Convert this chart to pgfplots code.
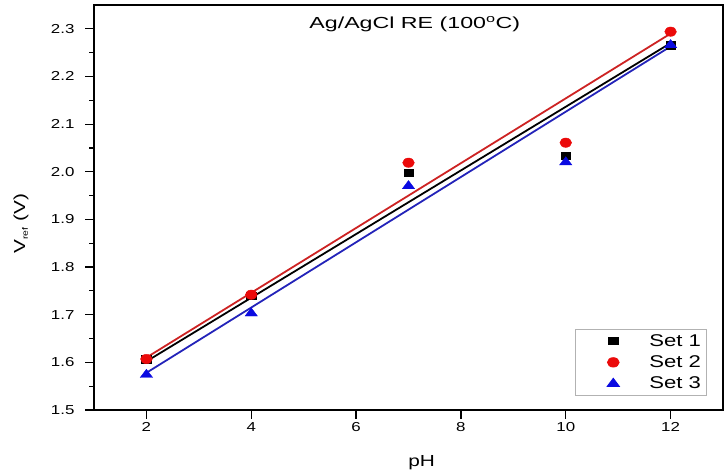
\documentclass[border=0pt]{standalone}
\usepackage{fontspec}
\setmainfont{Liberation Sans}[FakeStretch=1.3]
\newfontfamily\titlefont{Liberation Sans}[FakeStretch=1.45]
\usepackage{pgfplots}
\pgfplotsset{compat=1.18}
\usetikzlibrary{calc}

\definecolor{fitred}{RGB}{205,35,35}
\definecolor{fitblue}{RGB}{35,35,185}
\definecolor{mkred}{RGB}{235,10,10}
\definecolor{mkblue}{RGB}{10,10,225}

\begin{document}
\begin{tikzpicture}
\begin{axis}[
    name=ax,
    scale only axis,
    width=629pt, height=405pt,
    xmin=1, xmax=13,
    ymin=1.5, ymax=2.35,
    xtick={2,4,6,8,10,12},
    ytick={1.5,1.6,1.7,1.8,1.9,2.0,2.1,2.2,2.3},
    minor y tick num=1,
    tick align=outside,
    xtick pos=left, ytick pos=left,
    major tick length=9pt, minor tick length=5pt,
    axis line style={line width=1.3pt},
    every tick/.style={black, line width=1.2pt},
    /pgf/number format/assume math mode=true,
    ticklabel style={font=\fontsize{13}{15}\selectfont},
    yticklabel style={xshift=-7pt, /pgf/number format/.cd, fixed, fixed zerofill, precision=1},
    xlabel={pH},
    ylabel={V\textsubscript{\fontsize{8}{9}\selectfont ref} (V)},
    label style={font=\fontsize{16}{18}\selectfont},
    xlabel style={at={(rel axis cs:0.521,-0.131)}, anchor=center},
    ylabel style={at={(rel axis cs:-0.116,0.46)}, anchor=center},
    legend cell align=left,
    legend style={at={(0.975,0.035)}, anchor=south east,
        font=\fontsize{17}{20}\selectfont, draw=gray!60, line width=0.8pt,
        inner xsep=4pt, inner ysep=3pt, row sep=4pt},
    legend image code/.code={%
        \path[mark repeat=2, mark phase=2, #1]
            plot coordinates {(0pt,0pt) (34pt,0pt) (68pt,0pt)};},
]
% fitted lines (end points)
\addplot[forget plot, fitred, line width=1.8pt] coordinates {(2,1.610) (12,2.290)};
\addplot[forget plot, black, line width=1.8pt] coordinates {(2,1.602) (12,2.270)};
\addplot[forget plot, fitblue, line width=1.8pt] coordinates {(2,1.578) (12,2.263)};

% Set 1
\addplot[draw=none, mark=square*, mark size=3.8pt, black,
    mark options={xscale=1.25, draw=black, fill=black}] coordinates {
    (2,1.607) (4,1.740) (7,1.998) (10,2.034) (12,2.266)
};
% Set 2
\addplot[draw=none, mark=*, mark size=4.7pt, mkred,
    mark options={xscale=1.25, draw=mkred, fill=mkred}] coordinates {
    (2,1.607) (4,1.742) (7,2.019) (10,2.061) (12,2.294)
};
% Set 3
\addplot[draw=none, mark=triangle*, mark size=5.5pt, mkblue,
    mark options={xscale=1.3, draw=mkblue, fill=mkblue}] coordinates {
    (2,1.574) (4,1.703) (7,1.970) (10,2.020) (12,2.266)
};

\node[font=\titlefont\fontsize{16}{18}\selectfont, anchor=base]
    at (rel axis cs:0.510,0.941) {Ag/AgCl RE (100\textsuperscript{o}C)};

\legend{Set 1, Set 2, Set 3}
\end{axis}
\pgfresetboundingbox
\path ($(ax.south west)+(-94pt,-62pt)$) rectangle ($(ax.north east)+(2pt,5pt)$);
\end{tikzpicture}
\end{document}
